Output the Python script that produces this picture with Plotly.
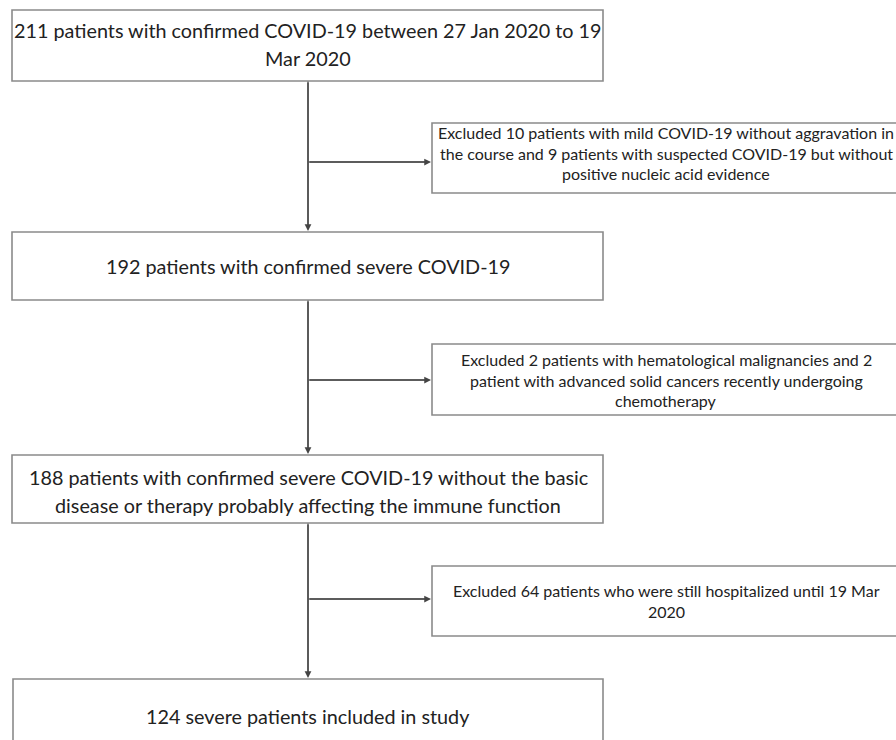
import plotly.graph_objects as go

# ---- content (data) ----
main_texts = [
    "211 patients with confirmed COVID-19 between 27 Jan 2020 to 19<br>Mar 2020",
    "192 patients with confirmed severe COVID-19",
    "188 patients with confirmed severe COVID-19 without the basic<br>disease or therapy probably affecting the immune function",
    "124 severe patients included in study",
]
side_texts = [
    "Excluded 10 patients with mild COVID-19 without aggravation in<br>the course and 9 patients with suspected COVID-19 but without<br>positive nucleic acid evidence",
    "Excluded 2 patients with hematological malignancies and 2<br>patient with advanced solid cancers recently undergoing<br>chemotherapy",
    "Excluded 64 patients who were still hospitalized until 19 Mar<br>2020",
]

# ---- layout geometry (pixel coordinates, y downward) ----
main_boxes = [(12, 10, 603, 81), (12, 232, 603, 300), (12, 455, 603, 523), (13, 679, 603, 770)]
side_boxes = [(432, 123, 930, 193), (432, 344, 930, 415), (432, 566, 930, 636)]
side_arrow_y = [162, 380, 599]
main_text_y = [44, 266, 491, 716]
side_text_y = [153, 380, 601]
spine_x = 308
side_center_x = 666
MAIN_LH = 28
SIDE_LH = 20.5

LINE = "#8a8a8a"
TXT = "#222222"
FONT = "Lato"

fig = go.Figure()
fig.add_trace(go.Scatter(x=[0, 896], y=[0, 740], mode="markers",
                         marker=dict(opacity=0), hoverinfo="skip", showlegend=False))

shapes = []
for (x0, y0, x1, y1) in main_boxes + side_boxes:
    shapes.append(dict(type="rect", xref="x", yref="y", x0=x0, y0=y0, x1=x1, y1=y1,
                       line=dict(color=LINE, width=1.6), fillcolor="white", layer="below"))

annotations = []


def add_lines(text, cx, cy, lh, size):
    lines = text.split("<br>")
    n = len(lines)
    for k, ln in enumerate(lines):
        yy = cy + (k - (n - 1) / 2) * lh
        annotations.append(dict(x=cx, y=yy, xref="x", yref="y", text=ln, showarrow=False,
                                font=dict(family=FONT, size=size, color=TXT), align="center",
                                xanchor="center", yanchor="middle"))


for t, ty in zip(main_texts, main_text_y):
    add_lines(t, spine_x, ty, MAIN_LH, 19.8)
for t, ty in zip(side_texts, side_text_y):
    add_lines(t, side_center_x, ty, SIDE_LH, 16)

# vertical arrows between main boxes
for i in range(3):
    top = main_boxes[i][3]
    bot = main_boxes[i + 1][1]
    annotations.append(dict(x=spine_x, y=bot - 1, ax=spine_x, ay=top, xref="x", yref="y",
                            axref="x", ayref="y", text="", showarrow=True, arrowhead=2,
                            arrowsize=0.9, arrowwidth=1.5, arrowcolor="#444444"))
    shapes.append(dict(type="line", xref="x", yref="y", x0=spine_x, x1=spine_x, y0=top, y1=bot - 5,
                       line=dict(color=LINE, width=1.6)))
# horizontal arrows to side boxes
for (x0, y0, x1, y1), ay in zip(side_boxes, side_arrow_y):
    annotations.append(dict(x=x0 - 1, y=ay, ax=spine_x, ay=ay, xref="x", yref="y",
                            axref="x", ayref="y", text="", showarrow=True, arrowhead=2,
                            arrowsize=0.9, arrowwidth=1.5, arrowcolor="#444444"))
    shapes.append(dict(type="line", xref="x", yref="y", x0=spine_x, x1=x0 - 5, y0=ay, y1=ay,
                       line=dict(color=LINE, width=1.6)))

fig.update_layout(
    width=896, height=740,
    margin=dict(l=0, r=0, t=0, b=0),
    paper_bgcolor="white", plot_bgcolor="white",
    xaxis=dict(range=[0, 896], visible=False, fixedrange=True),
    yaxis=dict(range=[740, 0], visible=False, fixedrange=True),
    shapes=shapes, annotations=annotations, showlegend=False,
)
fig.write_html("out.html", config={"displayModeBar": False},
               post_script="document.body.style.margin='0px';document.body.style.overflow='hidden';")
